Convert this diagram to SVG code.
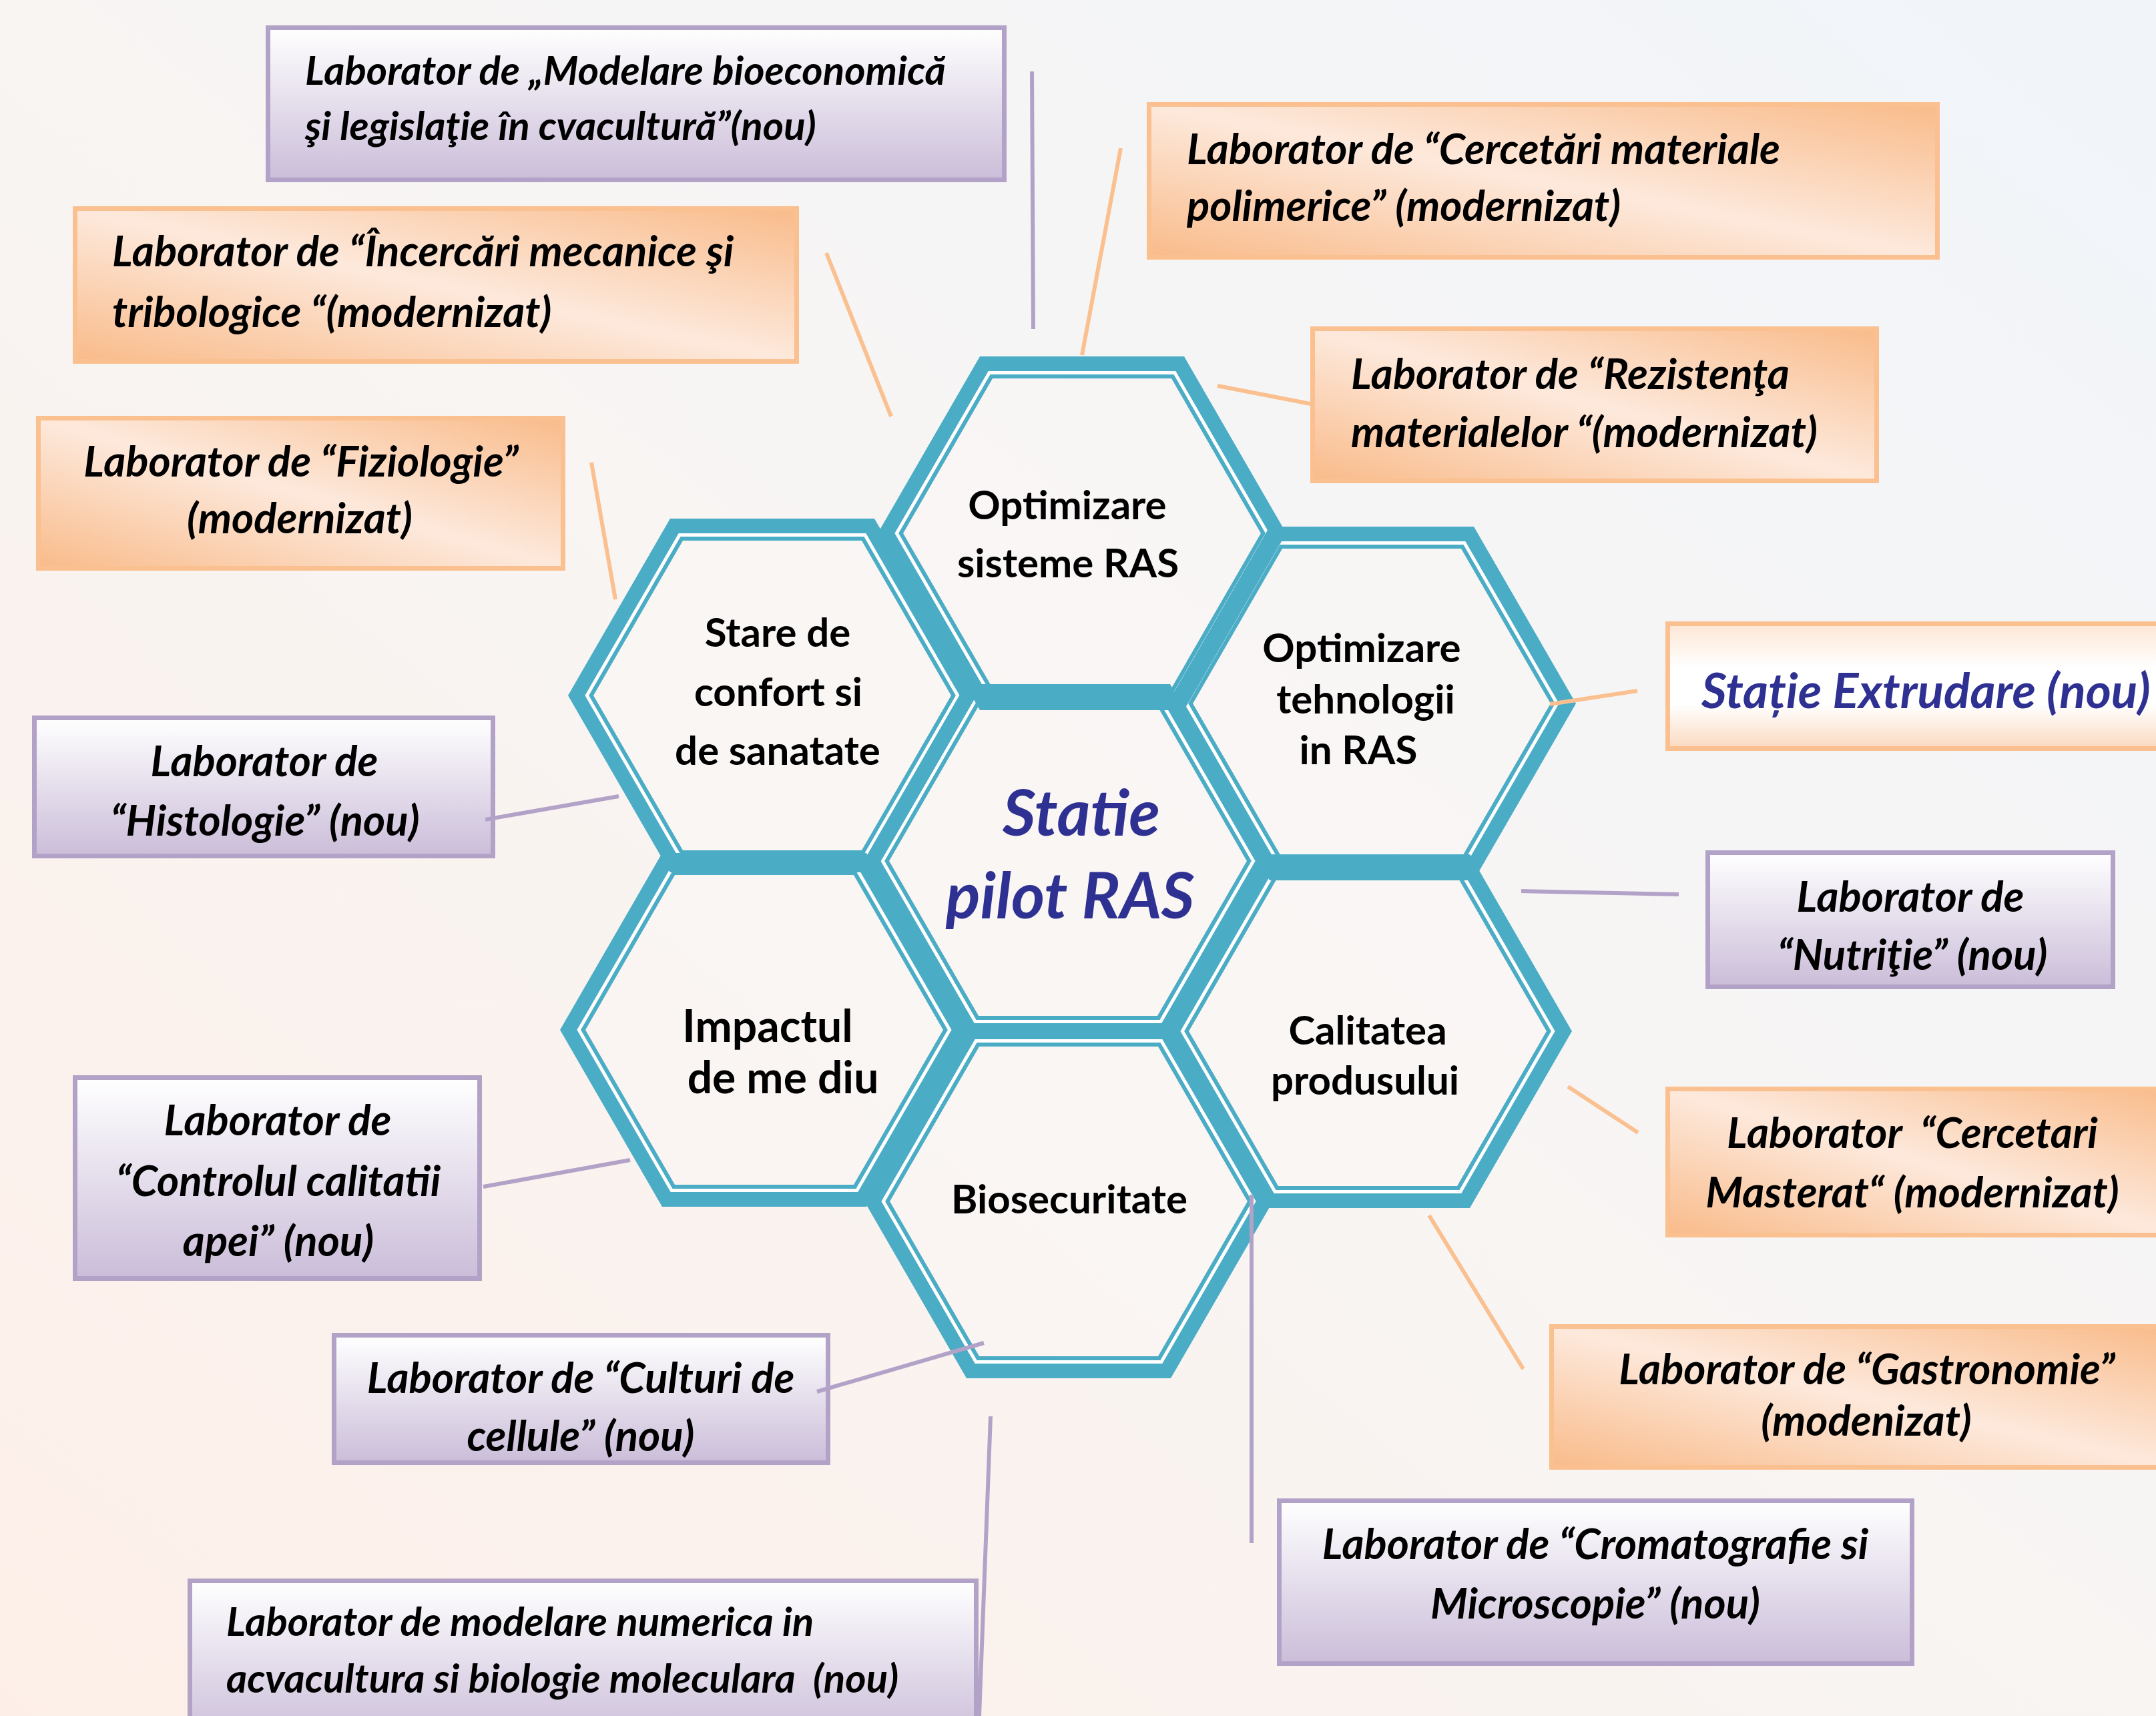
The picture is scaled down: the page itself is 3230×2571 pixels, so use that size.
<svg xmlns="http://www.w3.org/2000/svg" xmlns:xlink="http://www.w3.org/1999/xlink" width="3230" height="2571" viewBox="0 0 3230 2571">
<style>
.bg{fill:url(#gBg)}
.hfill{fill:#faf7f5;fill-opacity:0.6;stroke:none}
.band{fill:none;stroke:#4bacc6;stroke-width:22;stroke-linejoin:miter}
.gap{fill:none;stroke:#ffffff;stroke-width:5}
.thin{fill:none;stroke:#4bacc6;stroke-width:6}
.htxt{font-family:Lato,"Liberation Sans",sans-serif;font-weight:bold;font-size:60px;fill:#000;text-anchor:middle}
.ctxt{font-family:Lato,"Liberation Sans",sans-serif;font-weight:bold;font-style:italic;font-size:96px;fill:#2e3192;text-anchor:middle}
.bp{fill:url(#gPurple);stroke:#b3a2c7;stroke-width:7}
.bo{fill:url(#gOrange);stroke:#fac090;stroke-width:7}
.bx{fill:url(#gExtr);stroke:#fac090;stroke-width:7}
.lt{font-family:Lato,"Liberation Sans",sans-serif;font-weight:bold;font-style:italic;font-size:63.5px;fill:#000;white-space:pre}
.ls{font-size:60px}
.mid{text-anchor:middle}
.ext{font-family:Lato,"Liberation Sans",sans-serif;font-weight:bold;font-style:italic;font-size:73px;fill:#2e3192}
.cp{stroke:#b3a2c7;stroke-width:6;fill:none}
.co{stroke:#fac090;stroke-width:6;fill:none}
</style>
<defs>
<linearGradient id="gBg" x1="0" y1="1" x2="1" y2="0">
<stop offset="0" stop-color="#fdefe8"/><stop offset="0.5" stop-color="#f8f5f3"/><stop offset="1" stop-color="#f1f5fa"/>
</linearGradient>
<linearGradient id="gPurple" x1="0" y1="0" x2="0" y2="1">
<stop offset="0" stop-color="#ffffff"/><stop offset="1" stop-color="#cbbdd9"/>
</linearGradient>
<linearGradient id="gOrange" x1="1" y1="0" x2="0" y2="1">
<stop offset="0" stop-color="#f9bb8a"/><stop offset="0.5" stop-color="#fde9dc"/><stop offset="1" stop-color="#f9bb8a"/>
</linearGradient>
<linearGradient id="gExtr" x1="0" y1="0" x2="0" y2="1">
<stop offset="0" stop-color="#fde6d4"/><stop offset="0.35" stop-color="#ffffff"/><stop offset="0.65" stop-color="#ffffff"/><stop offset="1" stop-color="#fbd9bf"/>
</linearGradient>
<polygon id="hexFill" points="306,0 153,265 -153,265 -306,0 -153,-265 153,-265"/>
<polygon id="hexBand" points="293.3,0 146.65,254 -146.65,254 -293.3,0 -146.65,-254 146.65,-254"/>
<polygon id="hexGap" points="277.7,0 138.85,240.5 -138.85,240.5 -277.7,0 -138.85,-240.5 138.85,-240.5"/>
<polygon id="hexThin" points="271.4,0 135.7,235 -135.7,235 -271.4,0 -135.7,-235 135.7,-235"/>
<g id="hexInner"><use href="#hexFill" class="hfill"/><use href="#hexGap" class="gap"/><use href="#hexThin" class="thin"/></g>
</defs>
<rect class="bg" x="0" y="0" width="3230" height="2571"/>

<g id="hex-inner-lines">
<use href="#hexInner" transform="translate(1600,1290)"/>
<use href="#hexInner" transform="translate(1621,799)"/>
<use href="#hexInner" transform="translate(1157,1042)"/>
<use href="#hexInner" transform="translate(2055,1054)"/>
<use href="#hexInner" transform="translate(1145,1543)"/>
<use href="#hexInner" transform="translate(2049,1545)"/>
<use href="#hexInner" transform="translate(1601,1800)"/>
</g>

<g id="hex-center">
<use href="#hexBand" class="band" transform="translate(1600,1290)"/>
<text class="ctxt" x="1620" y="1252">Statie</text>
<text class="ctxt" x="1603" y="1376">pilot RAS</text>
</g>
<g id="hex-optimizare-sisteme">
<use href="#hexBand" class="band" transform="translate(1621,799)"/>
<text class="htxt" x="1599" y="778">Optimizare</text>
<text class="htxt" x="1600" y="865">sisteme RAS</text>
</g>
<g id="hex-stare-confort">
<use href="#hexBand" class="band" transform="translate(1157,1042)"/>
<text class="htxt" x="1165" y="969">Stare de</text>
<text class="htxt" x="1166" y="1058">confort si</text>
<text class="htxt" x="1165" y="1146">de sanatate</text>
</g>
<g id="hex-optimizare-tehnologii">
<use href="#hexBand" class="band" transform="translate(2055,1054)"/>
<text class="htxt" x="2040" y="992">Optimizare</text>
<text class="htxt" x="2046" y="1069">tehnologii</text>
<text class="htxt" x="2035" y="1145">in RAS</text>
</g>
<g id="hex-impactul">
<use href="#hexBand" class="band" transform="translate(1145,1543)"/>
<text class="htxt" x="1150" y="1561" style="font-size:66px">Impactul</text>
<text class="htxt" x="1173" y="1638" style="font-size:66px">de me diu</text>
</g>
<g id="hex-calitatea">
<use href="#hexBand" class="band" transform="translate(2049,1545)"/>
<text class="htxt" x="2049" y="1565">Calitatea</text>
<text class="htxt" x="2045" y="1640">produsului</text>
</g>
<g id="hex-biosecuritate">
<use href="#hexBand" class="band" transform="translate(1601,1800)"/>
<text class="htxt" x="1602" y="1818">Biosecuritate</text>
</g>

<g id="lab-modelare-bioeconomica">
<rect class="bp" x="401.5" y="41.5" width="1103" height="228"/>
<text class="lt ls" x="457" y="127">Laborator de „Modelare bioeconomică</text>
<text class="lt ls" x="457" y="210">şi legislaţie în cvacultură”(nou)</text>
</g>
<g id="lab-cercetari-polimerice">
<rect class="bo" x="1721.5" y="156.5" width="1181" height="229"/>
<text class="lt" x="1778" y="246">Laborator de “Cercetări materiale</text>
<text class="lt" x="1778" y="331">polimerice” (modernizat)</text>
</g>
<g id="lab-incercari">
<rect class="bo" x="112.5" y="312.5" width="1081" height="229"/>
<text class="lt" x="168" y="399">Laborator de “Încercări mecanice şi</text>
<text class="lt" x="168" y="490">tribologice “(modernizat)</text>
</g>
<g id="lab-fiziologie">
<rect class="bo" x="57.5" y="626.5" width="786" height="225"/>
<text class="lt mid" x="451" y="714">Laborator de “Fiziologie”</text>
<text class="lt mid" x="449" y="799">(modernizat)</text>
</g>
<g id="lab-histologie">
<rect class="bp" x="51.5" y="1075.5" width="687" height="207"/>
<text class="lt mid" x="396" y="1163">Laborator de</text>
<text class="lt mid" x="397" y="1252">“Histologie” (nou)</text>
</g>
<g id="lab-controlul">
<rect class="bp" x="112.5" y="1614.5" width="606" height="301"/>
<text class="lt mid" x="416" y="1701">Laborator de</text>
<text class="lt mid" x="417" y="1792">“Controlul calitatii</text>
<text class="lt mid" x="417" y="1882">apei” (nou)</text>
</g>
<g id="lab-culturi">
<rect class="bp" x="500.5" y="2000.5" width="740" height="191"/>
<text class="lt mid" x="870" y="2087">Laborator de “Culturi de</text>
<text class="lt mid" x="870" y="2174">cellule” (nou)</text>
</g>
<g id="lab-modelare-numerica">
<rect class="bp" x="284.5" y="2368.5" width="1178" height="240"/>
<text class="lt ls" x="339" y="2451">Laborator de modelare numerica in</text>
<text class="lt ls" x="339" y="2536">acvacultura si biologie moleculara  (nou)</text>
</g>
<g id="lab-rezistenta">
<rect class="bo" x="1966.5" y="492.5" width="845" height="228"/>
<text class="lt" x="2024" y="583">Laborator de “Rezistenţa</text>
<text class="lt" x="2024" y="670">materialelor “(modernizat)</text>
</g>
<g id="lab-extrudare">
<rect class="bx" x="2498.5" y="934.5" width="760" height="187"/>
<text class="ext" x="2549" y="1061">Stație Extrudare (nou)</text>
</g>
<g id="lab-nutritie">
<rect class="bp" x="2558.5" y="1277.5" width="607" height="201"/>
<text class="lt mid" x="2862" y="1366">Laborator de</text>
<text class="lt mid" x="2865" y="1453">“Nutriţie” (nou)</text>
</g>
<g id="lab-masterat">
<rect class="bo" x="2498.5" y="1631.5" width="760" height="219"/>
<text class="lt mid" x="2865" y="1720">Laborator  “Cercetari</text>
<text class="lt mid" x="2865" y="1809">Masterat“ (modernizat)</text>
</g>
<g id="lab-gastronomie">
<rect class="bo" x="2324.5" y="1987.5" width="930" height="211"/>
<text class="lt mid" x="2797" y="2074">Laborator de “Gastronomie”</text>
<text class="lt mid" x="2796" y="2151">(modenizat)</text>
</g>
<g id="lab-cromatografie">
<rect class="bp" x="1916.5" y="2248.5" width="948" height="244"/>
<text class="lt mid" x="2390" y="2336">Laborator de “Cromatografie si</text>
<text class="lt mid" x="2390" y="2425">Microscopie” (nou)</text>
</g>

<g id="connectors">
<line class="cp" x1="1546" y1="107" x2="1548" y2="493"/>
<line class="co" x1="1679" y1="222" x2="1621" y2="532"/>
<line class="co" x1="1238" y1="379" x2="1335" y2="624"/>
<line class="co" x1="886" y1="693" x2="922" y2="898"/>
<line class="co" x1="1824" y1="578" x2="1963" y2="605"/>
<line class="co" x1="2322" y1="1055" x2="2453" y2="1035"/>
<line class="cp" x1="727" y1="1228" x2="927" y2="1193"/>
<line class="cp" x1="2279" y1="1335" x2="2515" y2="1340"/>
<line class="cp" x1="724" y1="1778" x2="944" y2="1738"/>
<line class="co" x1="2349" y1="1628" x2="2454" y2="1697"/>
<line class="cp" x1="1224" y1="2085" x2="1474" y2="2012"/>
<line class="co" x1="2141" y1="1821" x2="2282" y2="2051"/>
<line class="cp" x1="1875" y1="1790" x2="1875" y2="2312"/>
<line class="cp" x1="1484" y1="2122" x2="1467" y2="2571"/>
</g>
</svg>
